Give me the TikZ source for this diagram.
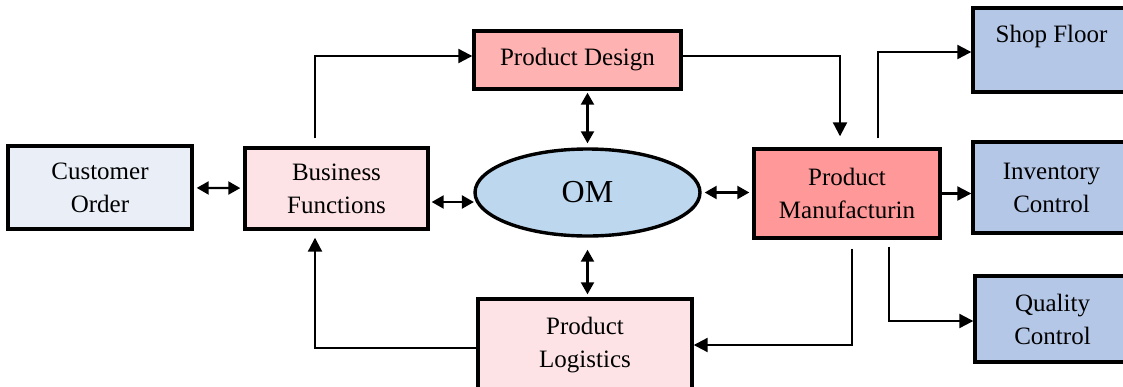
\documentclass[tikz,border=0pt]{standalone}
\usepackage{fontspec}
\setmainfont{Liberation Serif}
\usetikzlibrary{arrows.meta,positioning,shapes.geometric}
\definecolor{custfill}{HTML}{E9EEF7}
\definecolor{pinkfill}{HTML}{FDE3E6}
\definecolor{omfill}{HTML}{BDD7EE}
\definecolor{designfill}{HTML}{FFB2B2}
\definecolor{manufill}{HTML}{FF9999}
\definecolor{bluefill}{HTML}{B4C7E7}
\begin{document}
\begin{tikzpicture}[x=0.5pt,y=-0.5pt,
        box/.style={draw,line width=1.7pt,align=center,inner sep=0pt,font=\fontsize{12.5}{16.5}\selectfont},
        conn/.style={line width=1.1pt,-{Triangle[length=7pt,width=7pt]}},
        both/.style={line width=1.1pt,{Triangle[length=6pt,width=6.5pt]}-{Triangle[length=6pt,width=6.5pt]}}]
    \useasboundingbox (0,0) rectangle (1123,386);
    \clip (0,0) rectangle (1123,386);
    \node[box,fill=custfill,minimum width=92pt,minimum height=41.5pt] (co) at (100,187.5) {Customer\\Order};
    \node[box,fill=pinkfill,minimum width=91.5pt,minimum height=40.5pt] (bf) at (336.5,188.5) {Business\\Functions};
    \node[box,ellipse,fill=omfill,minimum width=112.5pt,minimum height=43.5pt,font=\fontsize{16}{19}\selectfont] (om) at (587.5,192.5) {OM};
    \node[box,fill=designfill,minimum width=103.5pt,minimum height=29pt] (pd) at (577.5,60) {Product Design};
    \node[box,fill=manufill,minimum width=93pt,minimum height=44.5pt] (pm) at (847,193.5) {Product\\Manufacturin};
    \node[box,fill=pinkfill,minimum width=107pt,minimum height=46pt] (pl) at (585,345) {Product\\Logistics};
    \node[box,fill=bluefill,minimum width=78.5pt,minimum height=42pt] (sf) at (1051.5,50) {Shop Floor\\~};
    \node[box,fill=bluefill,minimum width=78.5pt,minimum height=45.5pt] (ic) at (1051.5,187.5) {Inventory\\Control};
    \node[box,fill=bluefill,minimum width=77.5pt,minimum height=43pt] (qc) at (1052.5,319) {Quality\\Control};

    \draw[both,shorten <=1.5pt,shorten >=1.5pt] (co) -- (bf);
    \draw[both,shorten <=1pt,shorten >=1pt] ([yshift=-6.75pt]bf.east) -- ([yshift=-6.75pt,xshift=1.3pt]bf.east -| om.west);
    \draw[both,shorten <=1.5pt,shorten >=1.5pt] (om.east) -- (om.east -| pm.west);
    \draw[both,shorten <=1pt,shorten >=2pt] (om.north |- pd.south) -- (om.north);
    \draw[both,shorten <=6pt,shorten >=1.5pt] (om.south) -- (om.south |- pl.north);
    \draw[conn] ([xshift=-10.75pt,yshift=4pt]bf.north) |- ([yshift=2pt]pd.west);
    \draw[conn] ([yshift=2pt]pd.east) -| ([xshift=-3.5pt,yshift=5.5pt]pm.north);
    \draw[conn] ([xshift=15.5pt,yshift=4.5pt]pm.north) |- ([yshift=-1pt]sf.west);
    \draw[conn] (pm.east) -- (pm.east -| ic.west);
    \draw[conn] ([xshift=21pt,yshift=-3.5pt]pm.south) |- ([yshift=-1pt]qc.west);
    \draw[conn] ([xshift=2.5pt,yshift=-4.5pt]pm.south) |- (pl.east);
    \draw[conn] ([yshift=-1.5pt]pl.west) -| ([xshift=-10.75pt,yshift=-3.5pt]bf.south);
\end{tikzpicture}
\end{document}
